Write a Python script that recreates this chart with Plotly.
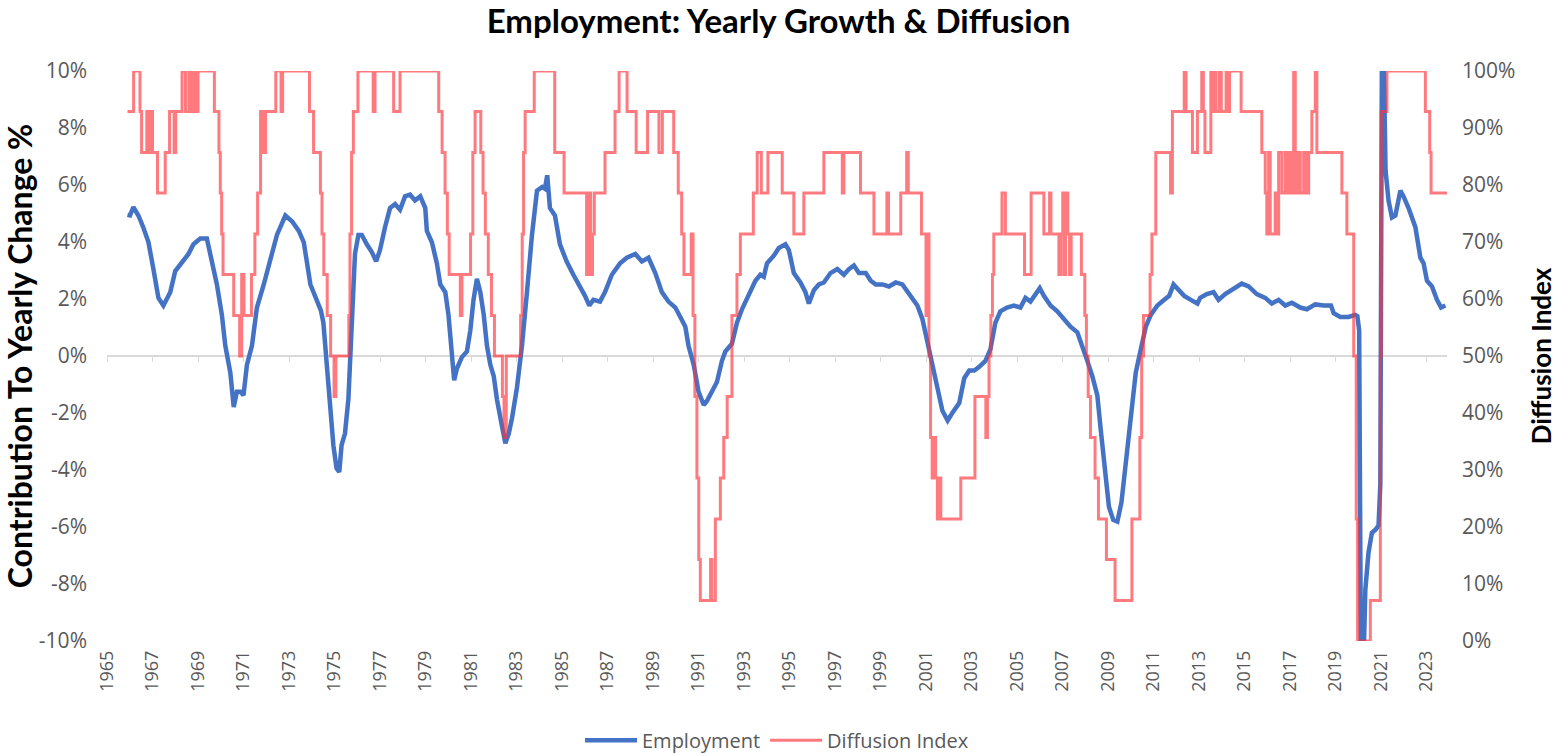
import plotly.graph_objects as go

# ---------------- data ----------------
# Employment: yearly growth contribution, % (decimal-year positions)
emp_x = [1965.90, 1966.01, 1966.16, 1966.38, 1966.60, 1966.82, 1967.04, 1967.26, 1967.48, 1967.63,
         1967.78, 1968.00, 1968.29, 1968.58, 1968.80, 1969.10, 1969.39, 1969.61, 1969.83, 1970.05,
         1970.20, 1970.42, 1970.57, 1970.71, 1970.86, 1971.00, 1971.15, 1971.37, 1971.59, 1971.89,
         1972.18, 1972.47, 1972.84, 1973.14, 1973.43, 1973.65, 1973.94, 1974.24, 1974.40, 1974.51,
         1974.65, 1974.80, 1974.95, 1975.09, 1975.21, 1975.31, 1975.46, 1975.61, 1975.76, 1975.90,
         1976.05, 1976.20, 1976.42, 1976.64, 1976.83, 1977.00, 1977.22, 1977.44, 1977.66, 1977.88,
         1978.10, 1978.32, 1978.54, 1978.77, 1978.99, 1979.06, 1979.28, 1979.50, 1979.65, 1979.87,
         1980.01, 1980.16, 1980.26, 1980.38, 1980.60, 1980.82, 1980.97, 1981.11, 1981.26, 1981.41,
         1981.56, 1981.70, 1981.85, 1982.00, 1982.14, 1982.36, 1982.51, 1982.66, 1982.80, 1983.02,
         1983.24, 1983.46, 1983.68, 1983.90, 1984.13, 1984.25, 1984.35, 1984.47, 1984.69, 1984.91,
         1985.20, 1985.50, 1985.79, 1986.01, 1986.20, 1986.38, 1986.67, 1986.89, 1987.19, 1987.55,
         1987.85, 1988.22, 1988.51, 1988.80, 1989.10, 1989.39, 1989.68, 1989.98, 1990.20, 1990.42,
         1990.56, 1990.79, 1991.00, 1991.23, 1991.37, 1991.59, 1991.81, 1992.03, 1992.18, 1992.47,
         1992.69, 1992.91, 1993.21, 1993.50, 1993.72, 1993.87, 1994.01, 1994.31, 1994.53, 1994.82,
         1994.97, 1995.19, 1995.48, 1995.70, 1995.85, 1996.07, 1996.29, 1996.51, 1996.80, 1997.10,
         1997.39, 1997.61, 1997.83, 1998.05, 1998.35, 1998.57, 1998.79, 1999.08, 1999.37, 1999.67,
         1999.96, 2000.18, 2000.40, 2000.62, 2000.84, 2000.99, 2001.14, 2001.28, 2001.50, 2001.72,
         2001.95, 2002.16, 2002.46, 2002.68, 2002.90, 2003.12, 2003.34, 2003.61, 2003.83, 2004.05,
         2004.27, 2004.56, 2004.86, 2005.15, 2005.37, 2005.59, 2005.81, 2006.00, 2006.18, 2006.47,
         2006.77, 2007.06, 2007.35, 2007.65, 2007.87, 2008.09, 2008.31, 2008.53, 2008.68, 2008.85,
         2009.04, 2009.23, 2009.41, 2009.59, 2009.78, 2010.00, 2010.22, 2010.44, 2010.66, 2010.88,
         2011.17, 2011.47, 2011.69, 2011.88, 2012.05, 2012.35, 2012.64, 2012.93, 2013.05, 2013.34,
         2013.64, 2013.86, 2014.15, 2014.52, 2014.88, 2015.18, 2015.54, 2015.91, 2016.20, 2016.50,
         2016.79, 2017.08, 2017.45, 2017.74, 2018.11, 2018.48, 2018.80, 2018.92, 2019.21, 2019.57,
         2019.87, 2019.96, 2020.04, 2020.13, 2020.21, 2020.31, 2020.45, 2020.60, 2020.75, 2020.89,
         2020.97, 2021.04, 2021.12, 2021.20, 2021.33, 2021.48, 2021.63, 2021.85, 2021.99, 2022.21,
         2022.51, 2022.73, 2022.87, 2023.02, 2023.24, 2023.46, 2023.64, 2023.83]
emp_y = [4.95, 4.93, 5.22, 4.93, 4.50, 4.00, 3.05, 2.04, 1.77, 1.97,
         2.24, 2.98, 3.25, 3.58, 3.92, 4.12, 4.12, 3.25, 2.51, 1.44,
         0.36, -0.58, -1.79, -1.25, -1.25, -1.38, -0.31, 0.36, 1.70, 2.51,
         3.45, 4.25, 4.93, 4.72, 4.39, 3.99, 2.51, 1.97, 1.60, 1.17,
         -0.17, -1.79, -3.13, -3.94, -4.07, -3.13, -2.72, -1.52, 1.17, 3.58,
         4.25, 4.25, 3.92, 3.65, 3.32, 3.72, 4.52, 5.19, 5.33, 5.13,
         5.60, 5.66, 5.46, 5.60, 5.19, 4.39, 3.99, 3.25, 2.51, 2.24,
         1.44, 0.09, -0.85, -0.44, -0.04, 0.16, 0.90, 1.97, 2.71, 2.24,
         1.44, 0.36, -0.31, -0.71, -1.52, -2.46, -3.06, -2.72, -2.19, -1.11,
         0.36, 2.24, 4.25, 5.80, 5.93, 5.87, 6.34, 5.19, 4.93, 3.92,
         3.32, 2.85, 2.44, 2.11, 1.77, 1.97, 1.91, 2.24, 2.85, 3.25,
         3.45, 3.58, 3.32, 3.45, 2.91, 2.24, 1.91, 1.70, 1.37, 1.03,
         0.36, -0.31, -1.25, -1.72, -1.58, -1.25, -0.91, -0.17, 0.16, 0.43,
         1.17, 1.64, 2.11, 2.64, 2.85, 2.78, 3.25, 3.52, 3.79, 3.92,
         3.72, 2.91, 2.58, 2.24, 1.84, 2.31, 2.51, 2.58, 2.91, 3.05,
         2.85, 3.05, 3.18, 2.91, 2.91, 2.64, 2.51, 2.51, 2.44, 2.58,
         2.51, 2.24, 2.04, 1.77, 1.30, 0.77, 0.30, -0.17, -1.11, -1.92,
         -2.26, -1.99, -1.65, -0.78, -0.51, -0.51, -0.38, -0.17, 0.23, 1.17,
         1.57, 1.70, 1.77, 1.70, 2.04, 1.91, 2.17, 2.38, 2.11, 1.77,
         1.57, 1.30, 1.03, 0.83, 0.36, -0.17, -0.71, -1.38, -2.59, -3.94,
         -5.29, -5.75, -5.81, -5.14, -3.80, -1.92, -0.58, 0.23, 1.03, 1.44,
         1.77, 1.97, 2.11, 2.51, 2.38, 2.11, 1.97, 1.84, 2.04, 2.17,
         2.24, 1.97, 2.17, 2.38, 2.54, 2.44, 2.17, 2.04, 1.84, 1.97,
         1.77, 1.87, 1.70, 1.64, 1.81, 1.77, 1.77, 1.50, 1.37, 1.37,
         1.44, 1.40, 0.90, -13.0, -11.5, -8.2, -6.9, -6.2, -6.1, -5.95,
         -4.5, 10.9, 10.4, 6.5, 5.46, 4.86, 4.93, 5.80, 5.60, 5.19,
         4.52, 3.45, 3.25, 2.64, 2.44, 1.97, 1.70, 1.77]

# Diffusion index, % (value holds from each position until the next one)
dif_x = [1965.90, 1966.17, 1966.45, 1966.52, 1966.75, 1966.82, 1966.92, 1967.00, 1967.22, 1967.56,
         1967.75, 1967.95, 1968.02, 1968.30, 1968.45, 1968.60, 1968.70, 1968.80, 1968.92, 1969.00,
         1969.72, 1969.92, 1969.98, 1970.04, 1970.10, 1970.57, 1970.83, 1970.92, 1971.02, 1971.35,
         1971.50, 1971.62, 1971.75, 1971.88, 1971.97, 1972.42, 1972.65, 1972.72, 1973.90, 1974.08,
         1974.38, 1974.45, 1974.53, 1974.68, 1974.83, 1974.98, 1975.06, 1975.63, 1975.68, 1975.75,
         1975.83, 1976.03, 1976.70, 1976.78, 1977.60, 1977.88, 1979.58, 1979.73, 1979.86, 1979.96,
         1980.04, 1980.53, 1980.60, 1980.98, 1981.08, 1981.18, 1981.43, 1981.53, 1981.63, 1981.76,
         1981.90, 1982.03, 1982.38, 1982.45, 1982.55, 1983.18, 1983.25, 1983.31, 1983.38, 1983.78,
         1984.68, 1985.09, 1986.08, 1986.16, 1986.26, 1986.34, 1986.42, 1986.89, 1987.33, 1987.51,
         1987.86, 1988.26, 1988.76, 1989.26, 1989.41, 1989.91, 1990.11, 1990.26, 1990.36, 1990.68,
         1990.76, 1990.84, 1990.93, 1991.01, 1991.08, 1991.53, 1991.59, 1991.74, 1991.96, 1992.11,
         1992.26, 1992.47, 1992.69, 1992.84, 1993.41, 1993.58, 1993.76, 1994.05, 1994.68, 1995.19,
         1995.63, 1996.51, 1997.32, 1997.39, 1998.12, 1998.71, 1999.28, 1999.35, 1999.89, 2000.15,
         2000.22, 2000.80, 2001.00, 2001.07, 2001.13, 2001.20, 2001.27, 2001.35, 2001.42, 2001.50,
         2001.57, 2001.65, 2002.53, 2003.15, 2003.63, 2003.70, 2003.77, 2003.85, 2003.92, 2003.98,
         2004.34, 2004.49, 2005.33, 2005.62, 2006.18, 2006.43, 2006.49, 2006.84, 2006.93, 2007.01,
         2007.07, 2007.13, 2007.23, 2007.31, 2007.38, 2007.83, 2007.98, 2008.05, 2008.13, 2008.23,
         2008.43, 2008.58, 2008.93, 2009.31, 2010.05, 2010.40, 2010.48, 2010.56, 2010.85, 2010.93,
         2011.10, 2011.75, 2011.83, 2012.35, 2012.43, 2012.71, 2012.93, 2013.12, 2013.19, 2013.26,
         2013.52, 2013.60, 2013.68, 2013.75, 2013.90, 2013.98, 2014.19, 2014.27, 2014.34, 2014.85,
         2015.76, 2015.91, 2015.98, 2016.06, 2016.13, 2016.35, 2016.42, 2016.50, 2016.64, 2016.79,
         2016.89, 2016.98, 2017.08, 2017.16, 2017.23, 2017.33, 2017.45, 2017.60, 2017.71, 2017.82,
         2017.96, 2018.11, 2018.18, 2019.28, 2019.50, 2019.80, 2019.91, 2019.97, 2020.03, 2020.53,
         2020.97, 2021.01, 2021.26, 2022.95, 2023.14, 2023.20, 2023.90]
dif_y = [92.9, 100, 92.9, 85.7, 92.9, 85.7, 92.9, 85.7, 78.6, 85.7,
         92.9, 85.7, 92.9, 100, 92.9, 100, 92.9, 100, 92.9, 100,
         92.9, 85.7, 78.6, 71.4, 64.3, 57.1, 50, 64.3, 57.1, 64.3,
         71.4, 78.6, 92.9, 85.7, 92.9, 100, 92.9, 100, 92.9, 85.7,
         78.6, 71.4, 64.3, 57.1, 50, 42.9, 50, 57.1, 71.4, 85.7,
         92.9, 100, 92.9, 100, 92.9, 100, 92.9, 85.7, 78.6, 71.4,
         64.3, 57.1, 64.3, 71.4, 85.7, 92.9, 85.7, 78.6, 71.4, 64.3,
         57.1, 50, 42.9, 35.7, 50, 57.1, 71.4, 85.7, 92.9, 100,
         85.7, 78.6, 64.3, 78.6, 64.3, 71.4, 78.6, 85.7, 92.9, 100,
         92.9, 85.7, 92.9, 85.7, 92.9, 85.7, 78.6, 71.4, 64.3, 71.4,
         57.1, 42.9, 28.6, 14.3, 7.1, 14.3, 7.1, 21.4, 28.6, 35.7,
         42.9, 57.1, 64.3, 71.4, 78.6, 85.7, 78.6, 85.7, 78.6, 71.4,
         78.6, 85.7, 78.6, 85.7, 78.6, 71.4, 78.6, 71.4, 78.6, 85.7,
         78.6, 71.4, 57.1, 71.4, 50, 35.7, 28.6, 35.7, 28.6, 21.4,
         28.6, 21.4, 28.6, 42.9, 35.7, 42.9, 50, 57.1, 64.3, 71.4,
         78.6, 71.4, 64.3, 78.6, 71.4, 78.6, 71.4, 64.3, 71.4, 78.6,
         64.3, 78.6, 71.4, 64.3, 71.4, 64.3, 57.1, 50, 42.9, 35.7,
         28.6, 21.4, 14.3, 7.1, 21.4, 35.7, 50, 57.1, 64.3, 71.4,
         85.7, 78.6, 92.9, 100, 92.9, 85.7, 92.9, 100, 92.9, 85.7,
         100, 92.9, 100, 92.9, 100, 92.9, 100, 92.9, 100, 92.9,
         85.7, 78.6, 71.4, 85.7, 71.4, 78.6, 71.4, 85.7, 78.6, 85.7,
         78.6, 85.7, 78.6, 100, 78.6, 85.7, 78.6, 85.7, 78.6, 85.7,
         92.9, 100, 85.7, 78.6, 71.4, 50, 21.4, 0, 0, 7.1,
         50, 92.9, 100, 92.9, 85.7, 78.6, 78.6]

year_ticks = list(range(1965, 2024, 2))
left_ticks = [-10, -8, -6, -4, -2, 0, 2, 4, 6, 8, 10]
right_ticks = [0, 10, 20, 30, 40, 50, 60, 70, 80, 90, 100]

# ---------------- figure ----------------
TFONT = "Lato"
LFONT = "Open Sans"
GRAY = "#595959"

fig = go.Figure()
fig.add_trace(go.Scatter(x=emp_x, y=emp_y, name="Employment", mode="lines",
                         line=dict(color="#4472C4", width=4.5), yaxis="y"))
fig.add_trace(go.Scatter(x=dif_x, y=dif_y, name="Diffusion Index", mode="lines",
                         line=dict(color="rgba(255,50,58,0.65)", width=3, shape="hv"),
                         yaxis="y2"))
# carrier for the axis drawn along the zero line
fig.add_trace(go.Scatter(x=[year_ticks[0]], y=[0], mode="lines", xaxis="x2", yaxis="y",
                         showlegend=False, hoverinfo="skip", line=dict(width=0)))

fig.update_layout(
    width=1557, height=756,
    paper_bgcolor="white", plot_bgcolor="white",
    margin=dict(l=107, r=110, t=71, b=115, autoexpand=False),
    font=dict(family=LFONT, color=GRAY, size=19),
    title=dict(text="<b>Employment: Yearly Growth & Diffusion</b>", x=0.5, xanchor="center",
               y=0.971, yanchor="middle", automargin=False,
               font=dict(family=TFONT, size=33, color="#000000")),
    xaxis=dict(range=[1965, 2023.9], tickmode="array", tickvals=year_ticks,
               ticktext=[str(v) for v in year_ticks], tickangle=-90, automargin=False,
               showgrid=False, zeroline=False, showline=False, ticks="",
               tickfont=dict(family=LFONT, size=18, color=GRAY), ticklabelstandoff=5),
    xaxis2=dict(overlaying="x", matches="x", anchor="free", position=0.5,
                showline=True, linecolor="#d9d9d9", linewidth=1.5,
                ticks="outside", ticklen=5, tickcolor="#d9d9d9", tickwidth=1.2,
                tickmode="array", tickvals=year_ticks, showticklabels=False,
                showgrid=False, zeroline=False, layer="below traces"),
    yaxis=dict(range=[-10, 10], tickmode="array", tickvals=left_ticks,
               ticktext=[f"{v}%" for v in left_ticks], automargin=False,
               showgrid=False, zeroline=False, showline=False, ticks="",
               tickfont=dict(family=LFONT, size=21, color=GRAY), ticklabelstandoff=19,
               title=dict(text="<b>Contribution To Yearly Change %</b>", standoff=7,
                          font=dict(family=TFONT, size=32, color="#000000"))),
    yaxis2=dict(range=[0, 100], overlaying="y", side="right", tickmode="array",
                tickvals=right_ticks, ticktext=[f"{v}%" for v in right_ticks],
                automargin=False,
                showgrid=False, zeroline=False, showline=False, ticks="",
                tickfont=dict(family=LFONT, size=21, color=GRAY), ticklabelstandoff=14,
                title=dict(text="<b>Diffusion Index</b>", standoff=22,
                           font=dict(family=TFONT, size=26, color="#000000"))),
    legend=dict(orientation="h", x=0.5, xanchor="center", y=-0.174, yanchor="middle",
                font=dict(family=LFONT, size=20, color=GRAY), itemwidth=52,
                bgcolor="rgba(0,0,0,0)"),
    showlegend=True,
)

fig.write_html("out.html", config={"displayModeBar": False},
               post_script="document.body.style.margin='0px';document.body.style.padding='0px';")
